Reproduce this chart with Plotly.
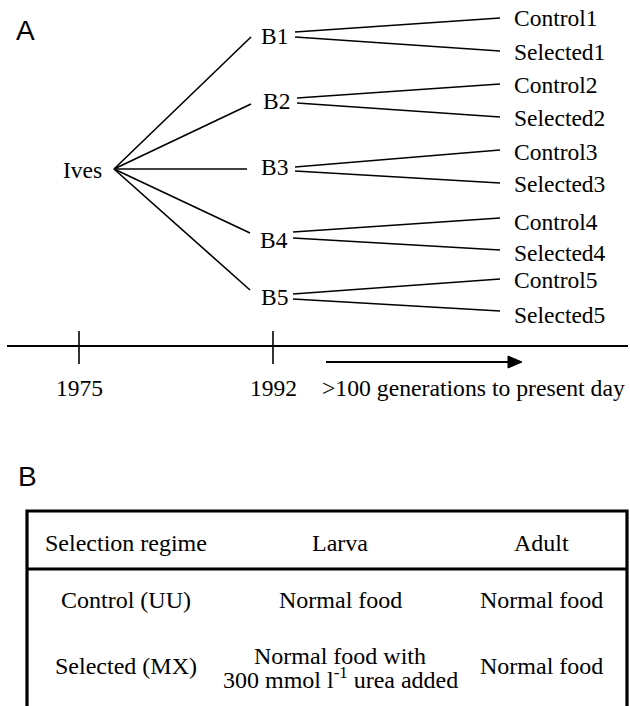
import plotly.graph_objects as go

# ---------------- content ----------------
panel_labels = ["A", "B"]
founder = "Ives"
blocks = ["B1", "B2", "B3", "B4", "B5"]
lines_ctrl = ["Control1", "Control2", "Control3", "Control4", "Control5"]
lines_sel = ["Selected1", "Selected2", "Selected3", "Selected4", "Selected5"]
years = ["1975", "1992"]
timeline_note = ">100 generations to present day"
table_header = ["Selection regime", "Larva", "Adult"]
table_col1 = ["Control (UU)", "Selected (MX)"]
table_col2 = [["Normal food"], ["Normal food with", "300 mmol l<sup>-1</sup> urea added"]]
table_col3 = ["Normal food", "Normal food"]

# ---------------- layout geometry (page pixel space) ----------------
W, H = 630, 706
founder_xy = (114, 169)
block_end_x = [251, 251, 247, 250, 250]
block_end_y = [37, 104, 169, 233, 290]
block_lbl_x = [274, 276, 274, 274, 274]
block_lbl_y = [36, 101, 167, 240, 297]
fork_x0 = [295, 297, 295, 293, 293]
fork_top_y0 = [32, 98, 167, 232, 294]
fork_bot_y0 = [37, 103, 171, 238, 299]
fork_x1 = 500
ctrl_y = [18, 84, 150, 218, 279]
sel_y = [51, 117, 183, 250, 311]
ctrl_lbl_y = [18, 85, 152, 222, 280]
sel_lbl_y = [52, 118, 184, 253, 315]
leaf_lbl_x = 512

timeline_y = 346
timeline_x = (7, 628)
tick_x = [79, 273]
tick_y = (331, 364)
year_lbl_y = 388
arrow_y = 362
arrow_x = (326, 522)

tab_left, tab_right, tab_top, tab_sep = 27, 627, 511, 569
col_x = [126, 340, 541]
header_y = 543
row_y = [600, 666]

SERIF = "Liberation Serif, Times New Roman, serif"
SANS = "Liberation Sans, Arial, sans-serif"

fig = go.Figure()

def seg_trace(xs, ys, width, color="black"):
    fig.add_trace(go.Scatter(x=xs, y=ys, mode="lines",
                             line=dict(color=color, width=width),
                             hoverinfo="skip", showlegend=False))

# Ives -> blocks
xs, ys = [], []
for bx, by in zip(block_end_x, block_end_y):
    xs += [founder_xy[0], bx, None]
    ys += [founder_xy[1], by, None]
seg_trace(xs, ys, 1.6)

# blocks -> control / selected
xs, ys = [], []
for i in range(len(blocks)):
    xs += [fork_x0[i], fork_x1, None, fork_x0[i], fork_x1, None]
    ys += [fork_top_y0[i], ctrl_y[i], None, fork_bot_y0[i], sel_y[i], None]
seg_trace(xs, ys, 1.6)

# timeline
seg_trace(list(timeline_x), [timeline_y, timeline_y], 1.8)
xs, ys = [], []
for tx in tick_x:
    xs += [tx, tx, None]
    ys += [tick_y[0], tick_y[1], None]
seg_trace(xs, ys, 1.6)

# arrow
seg_trace([arrow_x[0], arrow_x[1] - 12], [arrow_y, arrow_y], 1.8)
fig.add_trace(go.Scatter(x=[arrow_x[1] - 14, arrow_x[1], arrow_x[1] - 14, arrow_x[1] - 14],
                         y=[arrow_y - 6, arrow_y, arrow_y + 6, arrow_y - 6],
                         mode="lines", fill="toself", fillcolor="black",
                         line=dict(color="black", width=1),
                         hoverinfo="skip", showlegend=False))

# table borders
seg_trace([tab_left, tab_left, tab_right, tab_right], [H + 5, tab_top, tab_top, H + 5], 3.2)
seg_trace([tab_left, tab_right], [tab_sep, tab_sep], 3.2)

ann = []
def txt(x, y, s, size=23.5, xanchor="center", family=SERIF):
    ann.append(dict(x=x, y=y, xref="x", yref="y", text=s, showarrow=False,
                    xanchor=xanchor, yanchor="middle",
                    font=dict(family=family, size=size, color="black")))

# panel labels
txt(14, 30, panel_labels[0], size=28, xanchor="left", family=SANS)
txt(16, 476, panel_labels[1], size=28, xanchor="left", family=SANS)

# tree labels
txt(82, 170, founder)
for i, b in enumerate(blocks):
    txt(block_lbl_x[i], block_lbl_y[i], b)
    txt(leaf_lbl_x, ctrl_lbl_y[i], lines_ctrl[i], xanchor="left")
    txt(leaf_lbl_x, sel_lbl_y[i], lines_sel[i], xanchor="left")

for tx, yr in zip(tick_x, years):
    txt(tx, year_lbl_y, yr)
txt(320, year_lbl_y, timeline_note, size=23.7, xanchor="left")

# table text
for cx, h in zip(col_x, table_header):
    txt(cx, header_y, h, size=24)
for r in range(len(table_col1)):
    txt(col_x[0], row_y[r], table_col1[r], size=24)
    txt(col_x[2], row_y[r], table_col3[r], size=24)
    parts = table_col2[r]
    if len(parts) == 1:
        txt(col_x[1], row_y[r], parts[0], size=24)
    else:
        txt(col_x[1], row_y[r] - 10, parts[0], size=24)
        txt(col_x[1], row_y[r] + 12, parts[1], size=24)

fig.update_layout(
    width=W, height=H,
    margin=dict(l=0, r=0, t=0, b=0),
    paper_bgcolor="white", plot_bgcolor="white",
    xaxis=dict(range=[0, W], visible=False, fixedrange=True),
    yaxis=dict(range=[H, 0], visible=False, fixedrange=True),
    annotations=ann,
    showlegend=False,
)

fig.write_html("out.html",
               config={"displayModeBar": False, "staticPlot": True},
               post_script="document.body.style.margin='0px';document.body.style.overflow='hidden';")
